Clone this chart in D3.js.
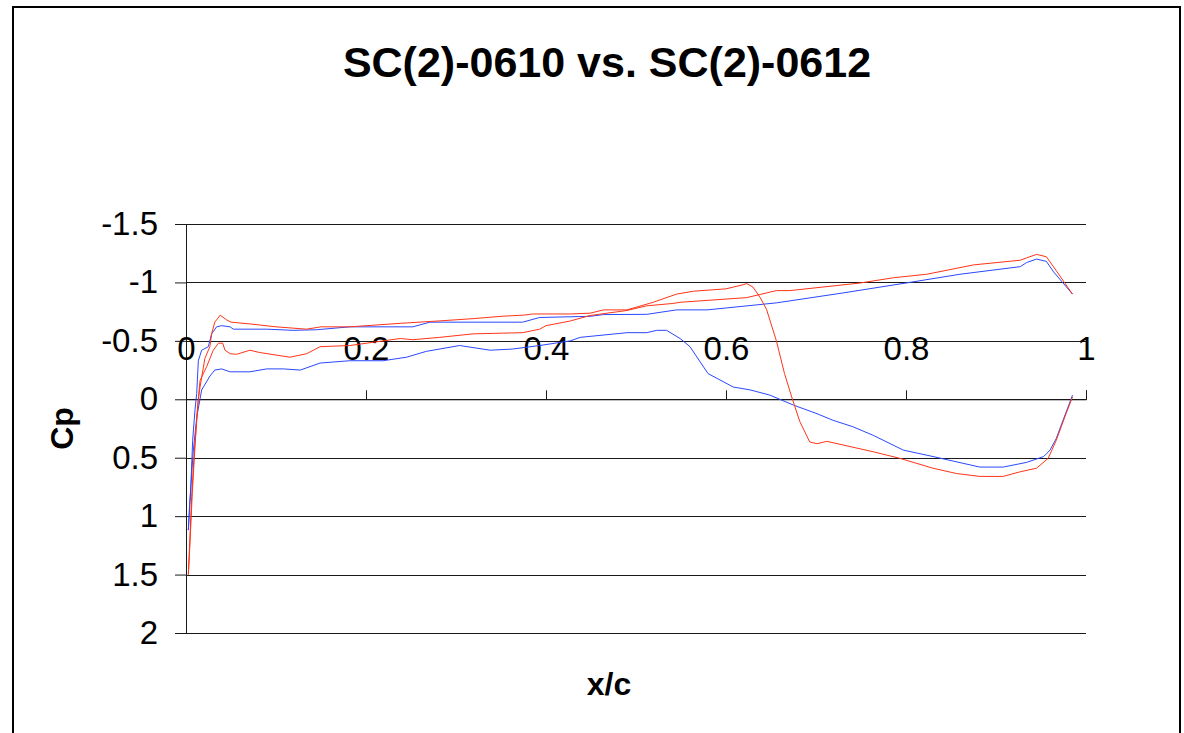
<!DOCTYPE html>
<html>
<head>
<meta charset="utf-8">
<script src="https://cdn.jsdelivr.net/npm/d3@7"></script>
<style>
  body { margin: 0; background: #fff; }
  svg text { font-family: Arial, "Liberation Sans", sans-serif; fill: #000; }
</style>
</head>
<body>
<svg id="chart"></svg>
<script>
const chartTitle = 'SC(2)-0610 vs. SC(2)-0612';
const xLabel = 'x/c';
const yLabel = 'Cp';
const xTicks = [0, 0.2, 0.4, 0.6, 0.8, 1];
const yTicks = [-1.5, -1, -0.5, 0, 0.5, 1, 1.5, 2];

// SC(2)-0610 (blue) -- [x/c, Cp]
const blueUpper = [
  [0.0026, 1.12], [0.0052, 0.78], [0.0074, 0.35], [0.010, 0.09], [0.0119, -0.05],
  [0.0137, -0.33], [0.0174, -0.42], [0.0248, -0.45], [0.0285, -0.56], [0.034, -0.62],
  [0.0396, -0.63], [0.049, -0.62], [0.0526, -0.60], [0.0897, -0.60], [0.119, -0.59],
  [0.145, -0.595], [0.182, -0.62], [0.252, -0.62], [0.271, -0.66], [0.374, -0.66],
  [0.393, -0.70], [0.449, -0.71], [0.464, -0.725], [0.512, -0.727], [0.545, -0.765],
  [0.579, -0.765], [0.656, -0.825], [0.73, -0.91], [0.804, -1.0], [0.86, -1.07],
  [0.927, -1.135], [0.934, -1.17], [0.945, -1.20], [0.956, -1.18], [0.964, -1.09],
  [0.985, -0.90]
];
const blueLower = [
  [0.0026, 1.12], [0.004, 0.9], [0.008, 0.45], [0.012, 0.15], [0.0174, -0.08],
  [0.0267, -0.2], [0.032, -0.25], [0.0396, -0.26], [0.049, -0.235], [0.071, -0.235],
  [0.0897, -0.26], [0.108, -0.26], [0.127, -0.25], [0.149, -0.31], [0.182, -0.33],
  [0.219, -0.33], [0.245, -0.36], [0.267, -0.41], [0.304, -0.46], [0.338, -0.42],
  [0.363, -0.43], [0.393, -0.46], [0.427, -0.50], [0.438, -0.53], [0.49, -0.57],
  [0.512, -0.57], [0.523, -0.59], [0.534, -0.59], [0.549, -0.52], [0.56, -0.45],
  [0.58, -0.22], [0.608, -0.105], [0.627, -0.08], [0.649, -0.035], [0.675, 0.05],
  [0.70, 0.12], [0.719, 0.18], [0.741, 0.235], [0.764, 0.31], [0.797, 0.435],
  [0.83, 0.49], [0.882, 0.58], [0.908, 0.58], [0.934, 0.54], [0.953, 0.49],
  [0.96, 0.435], [0.967, 0.335], [0.973, 0.21], [0.985, -0.035]
];

// SC(2)-0612 (red) -- [x/c, Cp]
const redUpper = [
  [0.0026, 1.50], [0.0063, 0.83], [0.0089, 0.49], [0.0119, 0.18], [0.0137, 0.0],
  [0.0155, -0.10], [0.021, -0.35], [0.0265, -0.45], [0.0285, -0.56], [0.032, -0.66],
  [0.038, -0.72], [0.045, -0.68], [0.05, -0.66], [0.071, -0.645], [0.10, -0.62],
  [0.134, -0.60], [0.15, -0.62], [0.182, -0.62], [0.238, -0.65], [0.28, -0.67],
  [0.319, -0.69], [0.35, -0.71], [0.375, -0.72], [0.385, -0.73], [0.427, -0.73],
  [0.449, -0.737], [0.464, -0.765], [0.49, -0.765], [0.519, -0.83], [0.545, -0.90],
  [0.564, -0.925], [0.60, -0.945], [0.608, -0.96], [0.619, -0.98], [0.623, -0.99],
  [0.63, -0.96], [0.638, -0.87], [0.645, -0.77], [0.656, -0.50], [0.665, -0.22],
  [0.673, -0.02], [0.682, 0.19], [0.693, 0.365], [0.701, 0.38], [0.712, 0.36],
  [0.741, 0.41], [0.764, 0.45], [0.793, 0.505], [0.83, 0.59], [0.856, 0.635],
  [0.882, 0.66], [0.908, 0.66], [0.927, 0.62], [0.945, 0.59], [0.958, 0.505],
  [0.967, 0.35], [0.978, 0.12], [0.985, -0.02]
];
const redLower = [
  [0.0026, 1.50], [0.004, 1.3], [0.007, 0.8], [0.010, 0.4], [0.0125, 0.1],
  [0.0156, -0.16], [0.023, -0.28], [0.0303, -0.42], [0.036, -0.48], [0.0408, -0.48],
  [0.0433, -0.42], [0.049, -0.39], [0.0563, -0.385], [0.071, -0.42], [0.082, -0.40],
  [0.1156, -0.36], [0.134, -0.39], [0.149, -0.45], [0.182, -0.46], [0.238, -0.52],
  [0.252, -0.51], [0.282, -0.53], [0.319, -0.56], [0.374, -0.57], [0.393, -0.60],
  [0.40, -0.63], [0.427, -0.67], [0.449, -0.717], [0.49, -0.76], [0.512, -0.80],
  [0.541, -0.82], [0.549, -0.83], [0.623, -0.87], [0.656, -0.93], [0.671, -0.93],
  [0.749, -0.995], [0.786, -1.04], [0.823, -1.07], [0.875, -1.15], [0.927, -1.19],
  [0.934, -1.21], [0.945, -1.24], [0.956, -1.22], [0.967, -1.10], [0.985, -0.90]
];

const config = {
  width: 1184,
  height: 733,
  margin: { top: 224, right: 98, bottom: 100, left: 186 }
};
const width = config.width - config.margin.left - config.margin.right;
const height = config.height - config.margin.top - config.margin.bottom;

const svg = d3.select('#chart')
  .attr('width', config.width)
  .attr('height', config.height);

svg.append('rect')
  .attr('width', config.width)
  .attr('height', config.height)
  .attr('fill', '#fff');

// outer chart frame
svg.append('rect')
  .attr('x', 13)
  .attr('y', 7)
  .attr('width', 1167)
  .attr('height', 800)
  .attr('fill', 'none')
  .attr('stroke', '#000')
  .attr('stroke-width', 2);

const xScale = d3.scaleLinear().domain([0, 1]).range([0, width]);
const yScale = d3.scaleLinear().domain([-1.5, 2]).range([0, height]);

const chart = svg.append('g')
  .attr('transform', `translate(${config.margin.left},${config.margin.top})`);

// horizontal gridlines
chart.append('g')
  .selectAll('line')
  .data(yTicks)
  .join('line')
  .attr('x1', 0)
  .attr('x2', width)
  .attr('y1', d => Math.round(yScale(d)) + 0.5)
  .attr('y2', d => Math.round(yScale(d)) + 0.5)
  .attr('stroke', '#1a1a1a')
  .attr('stroke-width', 1);

const yAxis = d3.axisLeft(yScale)
  .tickValues(yTicks)
  .tickFormat(d => String(d))
  .tickSize(11)
  .tickPadding(17);

const yAxisG = chart.append('g').call(yAxis);
yAxisG.selectAll('text').attr('font-size', 33).style('font-family', 'Arial, "Liberation Sans", sans-serif');
yAxisG.selectAll('line, path').attr('stroke', '#1a1a1a');

const xAxis = d3.axisTop(xScale)
  .tickValues(xTicks)
  .tickFormat(d => String(d))
  .tickSize(9)
  .tickPadding(30);

const xAxisG = chart.append('g')
  .attr('transform', `translate(0,${yScale(0)})`)
  .call(xAxis);
xAxisG.selectAll('text').attr('font-size', 33).style('font-family', 'Arial, "Liberation Sans", sans-serif');
xAxisG.selectAll('line, path').attr('stroke', '#1a1a1a');

const line = d3.line()
  .x(d => xScale(d[0]))
  .y(d => yScale(d[1]));

const series = [
  { data: blueUpper, colour: '#2a48ff' },
  { data: blueLower, colour: '#2a48ff' },
  { data: redUpper, colour: '#ff3418' },
  { data: redLower, colour: '#ff3418' }
];

chart.selectAll('.cp-line')
  .data(series)
  .join('path')
  .attr('class', 'cp-line')
  .attr('d', d => line(d.data))
  .attr('fill', 'none')
  .attr('stroke', d => d.colour)
  .attr('stroke-width', 1)
  .attr('stroke-linejoin', 'round');

svg.append('text')
  .attr('x', 607)
  .attr('y', 77)
  .attr('text-anchor', 'middle')
  .attr('font-size', 43)
  .attr('font-weight', 'bold')
  .text(chartTitle);

svg.append('text')
  .attr('x', 609)
  .attr('y', 695)
  .attr('text-anchor', 'middle')
  .attr('font-size', 32)
  .attr('font-weight', 'bold')
  .text(xLabel);

svg.append('text')
  .attr('transform', `translate(73,${config.margin.top + height / 2}) rotate(-90)`)
  .attr('text-anchor', 'middle')
  .attr('font-size', 32)
  .attr('font-weight', 'bold')
  .text(yLabel);
</script>
</body>
</html>
